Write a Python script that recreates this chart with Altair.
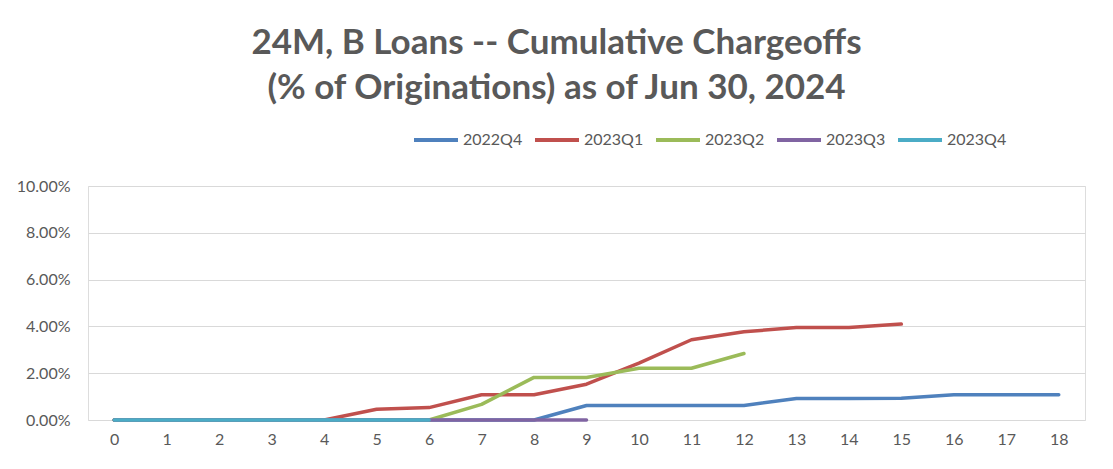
import altair as alt
import pandas as pd

months = list(range(19))
series_names = ["2022Q4", "2023Q1", "2023Q2", "2023Q3", "2023Q4"]
colors = ["#4F81BD", "#C0504D", "#9BBB59", "#8064A2", "#4BACC6"]

q2022q4 = [0, 0, 0, 0, 0, 0, 0, 0, 0, 0.0062, 0.0062, 0.0062, 0.0062, 0.0092, 0.0092, 0.0093, 0.0108, 0.0108, 0.0108]
q2023q1 = [0, 0, 0, 0, 0, 0.0046, 0.0053, 0.0108, 0.0108, 0.0153, 0.0243, 0.0343, 0.0377, 0.0395, 0.0395, 0.0410]
q2023q2 = [0, 0, 0, 0, 0, 0, 0, 0.0067, 0.0182, 0.0182, 0.0221, 0.0221, 0.0284]
q2023q3 = [0, 0, 0, 0, 0, 0, 0, 0, 0, 0]
q2023q4 = [0, 0, 0, 0, 0, 0, 0]

all_series = [q2022q4, q2023q1, q2023q2, q2023q3, q2023q4]
y_ticks = [0, 0.02, 0.04, 0.06, 0.08, 0.10]

rows = []
for order, (name, vals) in enumerate(zip(series_names, all_series)):
    for m, v in zip(months, vals):
        rows.append({"month": m, "value": v, "series": name, "order": order})
df = pd.DataFrame(rows)

TXT = "#595959"
FONT = "Lato"

chart = alt.Chart(df).mark_line(strokeWidth=3.5, strokeCap="round", strokeJoin="round").encode(
    x=alt.X("month:O", title=None,
            scale=alt.Scale(domain=months, padding=0.5),
            axis=alt.Axis(labelAngle=0, ticks=False, domain=False, grid=False,
                          labelFontSize=16, labelColor=TXT, labelFont=FONT, labelPadding=11)),
    y=alt.Y("value:Q", title=None,
            scale=alt.Scale(domain=[0, 0.10], nice=False),
            axis=alt.Axis(values=y_ticks, format=".2%", ticks=False, domain=False,
                          gridColor="#D9D9D9", gridWidth=1.2,
                          labelFontSize=16, labelColor=TXT, labelFont=FONT, labelPadding=18)),
    color=alt.Color("series:N", title=None,
                    scale=alt.Scale(domain=series_names, range=colors),
                    legend=alt.Legend(orient="none", direction="horizontal", legendX=324, legendY=-70,
                                      symbolType="stroke", symbolSize=1936, symbolStrokeWidth=4,
                                      labelFontSize=16, labelColor=TXT, labelFont=FONT,
                                      columnPadding=4, labelOffset=3)),
    detail="series:N",
    order="order:Q",
).properties(
    width=997,
    height=234,
    title=alt.TitleParams(
        text=["24M, B Loans -- Cumulative Chargeoffs", "(% of Originations) as of Jun 30, 2024"],
        fontSize=35, fontWeight="bold", color=TXT, font=FONT, anchor="middle",
        dx=-30, lineHeight=45, offset=10),
    padding={"left": 80, "top": 178, "right": 20, "bottom": 40},
    autosize=alt.AutoSizeParams(type="none"),
).configure_view(stroke=None).configure(background="white")

chart.save("out.html", embed_options={"renderer": "svg", "actions": False})
